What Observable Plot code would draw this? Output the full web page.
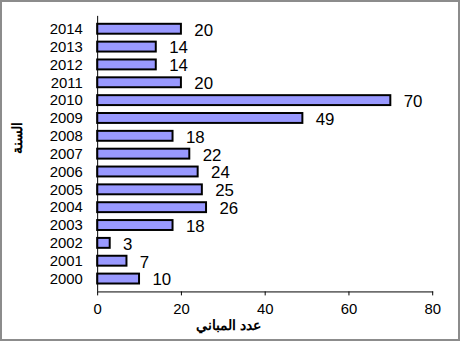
<!DOCTYPE html>
<html><head><meta charset="utf-8">
<script src="https://cdn.jsdelivr.net/npm/d3@7"></script>
<script src="https://cdn.jsdelivr.net/npm/@observablehq/plot@0.6"></script>
<style>
html,body{margin:0;padding:0;background:#fff;}
#wrap{position:relative;width:460px;height:341px;box-sizing:border-box;border:2px solid #8c8c8c;overflow:hidden;}
#wrap svg{position:absolute;left:-2px;top:-2px;}
</style></head>
<body><div id="wrap"></div>
<script>
const years = ["2000","2001","2002","2003","2004","2005","2006","2007","2008","2009","2010","2011","2012","2013","2014"];
const counts = [10,7,3,18,26,25,24,22,18,49,70,20,14,14,20];
const xTicks = [0,20,40,60,80];
const xLabel = "عدد المباني";
const yLabel = "السنة";

const data = years.map((y,i)=>({year:y, value:counts[i]}));

const chart = Plot.plot({
  width: 460, height: 341,
  marginLeft: 98, marginRight: 24, marginTop: 16, marginBottom: 47,
  style: {fontFamily: "'Liberation Sans', Arial, sans-serif", fontSize: "15px", background: "transparent", color: "#000"},
  x: {domain: [0,80]},
  y: {domain: years.slice().reverse(), padding: 0.42},
  marks: [
    Plot.barX(data, {x: "value", y: "year", fill: "#9999ff", stroke: "#000", strokeWidth: 2}),
    Plot.text(data, {x: "value", y: "year", text: d => String(d.value), textAnchor: "start", dx: 13, dy: 1, fontSize: 17, fill: "#000"}),
    Plot.ruleX([0], {stroke: "#000", strokeWidth: 1}),
    Plot.frame({anchor: "bottom", stroke: "#000"}),
    Plot.axisX({ticks: xTicks, tickSize: 4, tickPadding: 8, fontSize: 15, label: null}),
    Plot.axisY({tickSize: 0, tickPadding: 15, fontSize: 15, label: null}),
    Plot.text([xLabel], {frameAnchor: "bottom", text: d => d, dy: 34, dx: -37, fontSize: 14, fontWeight: "bold", lineAnchor: "middle", fill: "#000"}),
    Plot.text([yLabel], {frameAnchor: "left", text: d => d, dx: -81, rotate: -90, fontSize: 14, fontWeight: "bold", lineAnchor: "middle", fill: "#000"})
  ]
});
document.getElementById("wrap").appendChild(chart);
</script>
</body></html>
